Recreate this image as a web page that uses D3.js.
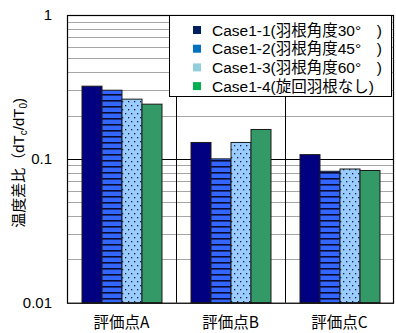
<!DOCTYPE html>
<html>
<head>
<meta charset="utf-8">
<script src="https://cdn.jsdelivr.net/npm/d3@7"></script>
<style>
  html, body { margin: 0; padding: 0; background: #fff; }
  svg { display: block; }
  text { font-family: "Liberation Sans", Arial, "Noto Sans CJK JP", sans-serif; }
</style>
</head>
<body>
<div id="chart"></div>
<script>
// Evaluation points and cases
const categories = ["評価点A", "評価点B", "評価点C"];
const seriesNames = [
  "Case1-1(羽根角度30°\u3000)",
  "Case1-2(羽根角度45°\u3000)",
  "Case1-3(羽根角度60°\u3000)",
  "Case1-4(旋回羽根なし)"
];
// Temperature difference ratio dTc/dT0 per case, one value per evaluation point
const case1_1 = [0.32, 0.13, 0.107];
const case1_2 = [0.30, 0.10, 0.082];
const case1_3 = [0.26, 0.13, 0.085];
const case1_4 = [0.24, 0.16, 0.083];
const seriesValues = [case1_1, case1_2, case1_3, case1_4];
const yTickValues = [0.01, 0.1, 1];
const yTickLabels = ["0.01", "0.1", "1"];

const W = 396, H = 333;
const margin = { left: 67, right: 2, top: 15, bottom: 31 };

const svg = d3.select("#chart").append("svg")
  .attr("width", W).attr("height", H);

const defs = svg.append("defs");
// horizontal stripes for Case1-2
const stripe = defs.append("pattern").attr("id", "stripes")
  .attr("patternUnits", "userSpaceOnUse").attr("width", 6).attr("height", 6);
stripe.append("rect").attr("width", 6).attr("height", 6).attr("fill", "#3366ff");
stripe.append("rect").attr("y", 4).attr("width", 6).attr("height", 1.6).attr("fill", "#0a0a30");
// dotted fill for Case1-3
const dots = defs.append("pattern").attr("id", "dots")
  .attr("patternUnits", "userSpaceOnUse").attr("width", 6).attr("height", 8);
dots.append("rect").attr("width", 6).attr("height", 8).attr("fill", "#99ccff");
dots.append("rect").attr("x", 1).attr("y", 1).attr("width", 1.3).attr("height", 1.3).attr("fill", "#1a1a40");
dots.append("rect").attr("x", 4).attr("y", 5).attr("width", 1.3).attr("height", 1.3).attr("fill", "#1a1a40");

const barFills = ["#000080", "url(#stripes)", "url(#dots)", "#339966"];
const legendColors = ["#002060", "#0070c0", "#92cddc", "#00b050"];

const x0 = W - margin.right, yBottom = H - margin.bottom + 0.7;
const x = d3.scaleBand().domain(categories)
  .range([margin.left, x0]).paddingInner(0).paddingOuter(0);
const y = d3.scaleLog().domain([0.01, 1]).range([yBottom, margin.top]);
const barW = 20;
const xs = d3.scaleBand().domain(d3.range(seriesNames.length))
  .range([0, barW * seriesNames.length]);

// grid lines
const gridVals = y.ticks();
svg.append("g").selectAll("line").data(gridVals).join("line")
  .attr("x1", margin.left).attr("x2", x0)
  .attr("y1", d => Math.round(y(d)) + 0.5).attr("y2", d => Math.round(y(d)) + 0.5)
  .attr("stroke", d => (Math.abs(d - 0.1) < 1e-9) ? "#000" : "#a6a6a6")
  .attr("stroke-width", 1);

// category separators
svg.append("g").selectAll("line").data(categories.slice(1)).join("line")
  .attr("x1", d => Math.round(x(d)) + 0.5).attr("x2", d => Math.round(x(d)) + 0.5)
  .attr("y1", margin.top).attr("y2", yBottom)
  .attr("stroke", "#000").attr("stroke-width", 1);

// bars
const groups = svg.append("g").selectAll("g").data(categories).join("g")
  .attr("transform", d => `translate(${x(d) + (x.bandwidth() - barW * 4) / 2 + 0.5},0)`);
groups.selectAll("rect").data((c, ci) => seriesValues.map((s, si) => ({ si, v: s[ci] })))
  .join("rect")
  .attr("x", d => xs(d.si))
  .attr("width", barW)
  .attr("y", d => y(d.v))
  .attr("height", d => yBottom - y(d.v))
  .attr("fill", d => barFills[d.si])
  .attr("stroke", "#1a1a1a").attr("stroke-width", 1);

// plot frame
svg.append("rect")
  .attr("x", margin.left + 0.5).attr("y", margin.top + 0.5)
  .attr("width", x0 - margin.left - 1).attr("height", yBottom - margin.top)
  .attr("fill", "none").attr("stroke", "#000").attr("stroke-width", 1.2);

// y axis
const yAxis = d3.axisLeft(y).tickValues(yTickValues)
  .tickFormat((d, i) => yTickLabels[i]).tickSize(0).tickPadding(15);
const gy = svg.append("g").attr("transform", `translate(${margin.left},0)`).call(yAxis);
gy.select(".domain").remove();
gy.selectAll("text").attr("font-size", 15).attr("fill", "#000")
  .style("font-family", '"Liberation Sans", Arial, sans-serif');

// x axis labels
const xAxis = d3.axisBottom(x).tickSize(0).tickPadding(14);
const gx = svg.append("g").attr("transform", `translate(0,${yBottom})`).call(xAxis);
gx.select(".domain").remove();
gx.selectAll("text").attr("font-size", 15.5).attr("fill", "#000")
  .style("font-family", '"Noto Sans CJK JP", "Liberation Sans", sans-serif');

// y axis title
const yt = svg.append("text")
  .attr("transform", `translate(24,${(margin.top + yBottom) / 2 + 4}) rotate(-90)`)
  .attr("text-anchor", "middle").attr("font-size", 15).attr("fill", "#000");
yt.append("tspan").text("温度差比（dT");
yt.append("tspan").attr("font-size", 10).attr("dy", 3).text("c");
yt.append("tspan").attr("dy", -3).text("/dT");
yt.append("tspan").attr("font-size", 10).attr("dy", 3).text("0");
yt.append("tspan").attr("dy", -3).text(")");

// legend
const lg = svg.append("g");
lg.append("rect").attr("x", 169.5).attr("y", 15.5).attr("width", 222).attr("height", 81)
  .attr("fill", "#fff").attr("stroke", "#000").attr("stroke-width", 1);
const items = lg.selectAll("g.item").data(seriesNames).join("g").attr("class", "item")
  .attr("transform", (d, i) => `translate(193,${30 + i * 18.7})`);
items.append("rect").attr("x", 0).attr("y", -4).attr("width", 8).attr("height", 8)
  .attr("fill", (d, i) => legendColors[i]);
items.append("text").attr("x", 19).attr("y", 5.5).attr("font-size", 15.5).attr("fill", "#000")
  .text(d => d);
</script>
</body>
</html>
